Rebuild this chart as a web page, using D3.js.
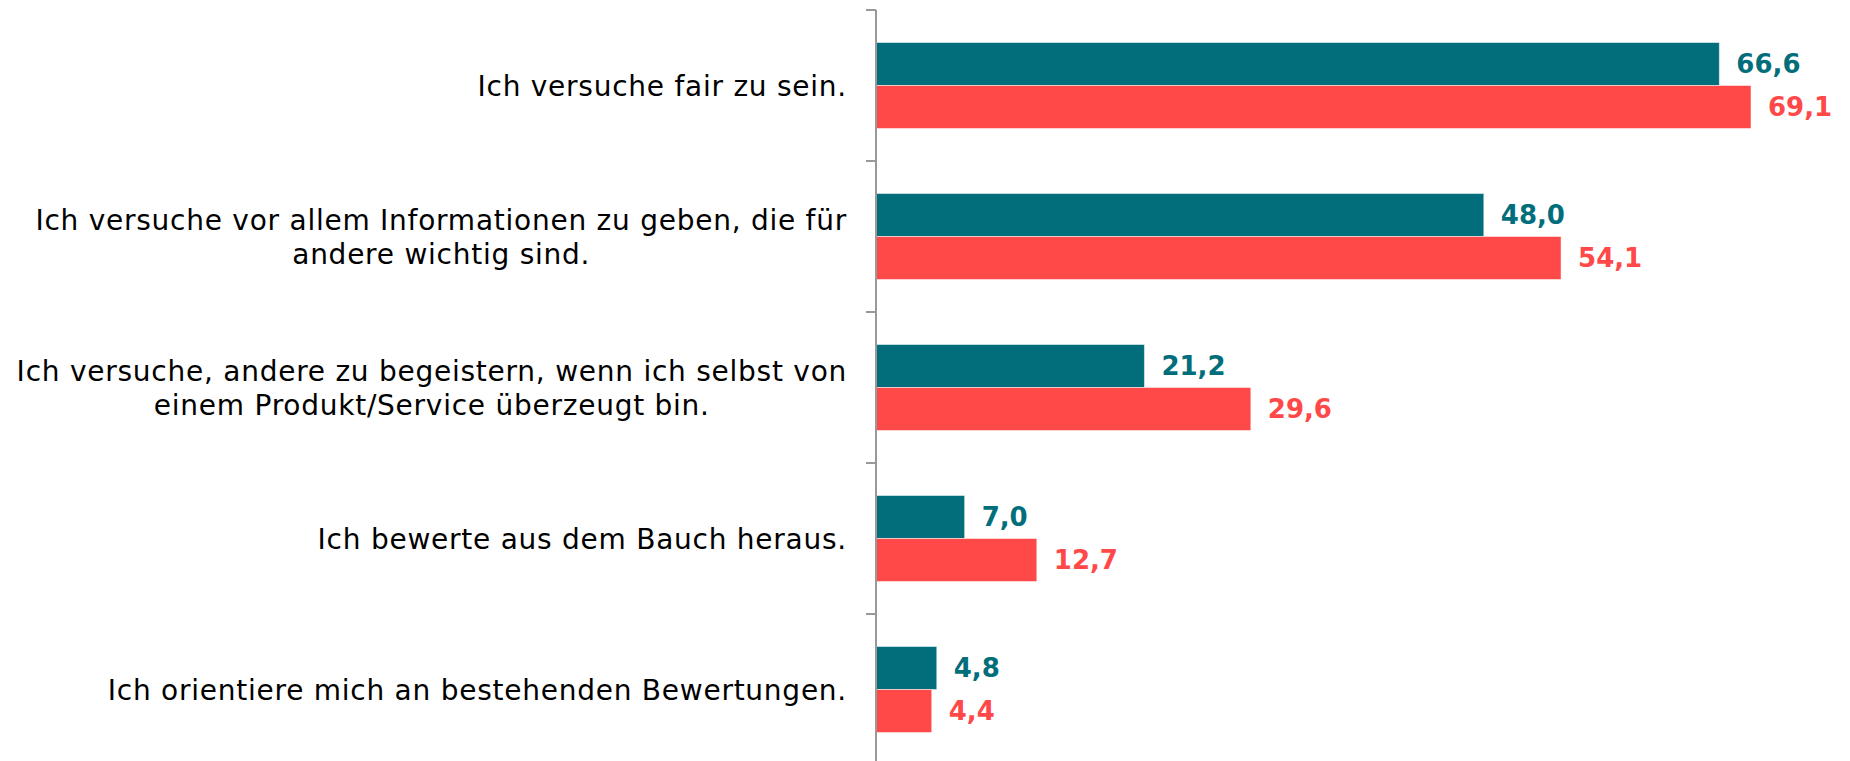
<!DOCTYPE html>
<html>
<head>
<meta charset="utf-8">
<script src="https://cdn.jsdelivr.net/npm/d3@7"></script>
<style>
  body { margin: 0; background: #fff; }
  svg { display: block; }
</style>
</head>
<body>
<svg id="chart"></svg>
<script>
const categories = [
  'Ich versuche fair zu sein.',
  'Ich versuche vor allem Informationen zu geben, die für\nandere wichtig sind.',
  'Ich versuche, andere zu begeistern, wenn ich selbst von\neinem Produkt/Service überzeugt bin.',
  'Ich bewerte aus dem Bauch heraus.',
  'Ich orientiere mich an bestehenden Bewertungen.'
]
const seriesA = [66.6, 48.0, 21.2, 7.0, 4.8]
const seriesB = [69.1, 54.1, 29.6, 12.7, 4.4]
const colors = ['#036e7b', '#ff4848']

const width = 1850, height = 761
const axisX = 876

const svg = d3.select('#chart')
  .attr('width', width)
  .attr('height', height)

const y = d3.scaleBand()
  .domain(categories)
  .range([10, 765])

const x = d3.scaleLinear()
  .domain([0, 69.1])
  .range([axisX, 1751])

const fmt = v => d3.format('.1f')(v).replace('.', ',')

// bars, two per category
const barH = 43
const rows = categories.map((c, i) => ({ cat: c, a: seriesA[i], b: seriesB[i] }))

const g = svg.selectAll('g.row').data(rows)
  .enter().append('g')
    .attr('class', 'row')
    .attr('transform', d => `translate(0,${y(d.cat) + y.bandwidth() / 2})`)

g.append('rect')
  .attr('x', axisX)
  .attr('y', -barH)
  .attr('width', d => x(d.a) - axisX)
  .attr('height', barH)
  .attr('fill', colors[0])
  .attr('stroke', 'rgba(255,255,255,0.5)')
  .attr('stroke-width', 1)

g.append('rect')
  .attr('x', axisX)
  .attr('y', 0)
  .attr('width', d => x(d.b) - axisX)
  .attr('height', barH)
  .attr('fill', colors[1])
  .attr('stroke', 'rgba(255,255,255,0.5)')
  .attr('stroke-width', 1)

const valFont = 'bold 26px "DejaVu Sans", Verdana, sans-serif'

g.append('text')
  .attr('x', d => x(d.a) + 17)
  .attr('y', -barH / 2)
  .attr('dy', '0.36em')
  .attr('fill', colors[0])
  .style('font', valFont)
  .text(d => fmt(d.a))

g.append('text')
  .attr('x', d => x(d.b) + 17)
  .attr('y', barH / 2)
  .attr('dy', '0.36em')
  .attr('fill', colors[1])
  .style('font', valFont)
  .text(d => fmt(d.b))

// category labels, lines centred on each other, block right aligned
g.each(function(d) {
  const lines = d.cat.split('\n')
  const lab = d3.select(this).append('text')
    .attr('fill', '#000')
    .style('font', '28px "DejaVu Sans", Verdana, sans-serif')
    .style('letter-spacing', '0.75px')
    .attr('text-anchor', 'middle')
  const lh = 34
  lines.forEach((l, j) => {
    lab.append('tspan')
      .attr('x', 0)
      .attr('y', (j - (lines.length - 1) / 2) * lh)
      .attr('dy', '0.36em')
      .text(l)
  })
  const bb = lab.node().getBBox()
  lab.attr('transform', `translate(${847 - bb.width / 2},0)`)
})

// vertical axis with ticks at band edges
const axis = svg.append('g')
axis.append('line')
  .attr('x1', axisX).attr('x2', axisX)
  .attr('y1', 10).attr('y2', height)
  .attr('stroke', '#999').attr('stroke-width', 2)

axis.selectAll('line.tick').data(categories)
  .enter().append('line')
    .attr('class', 'tick')
    .attr('x1', axisX - 10).attr('x2', axisX)
    .attr('y1', d => y(d)).attr('y2', d => y(d))
    .attr('stroke', '#999').attr('stroke-width', 2)
</script>
</body>
</html>
